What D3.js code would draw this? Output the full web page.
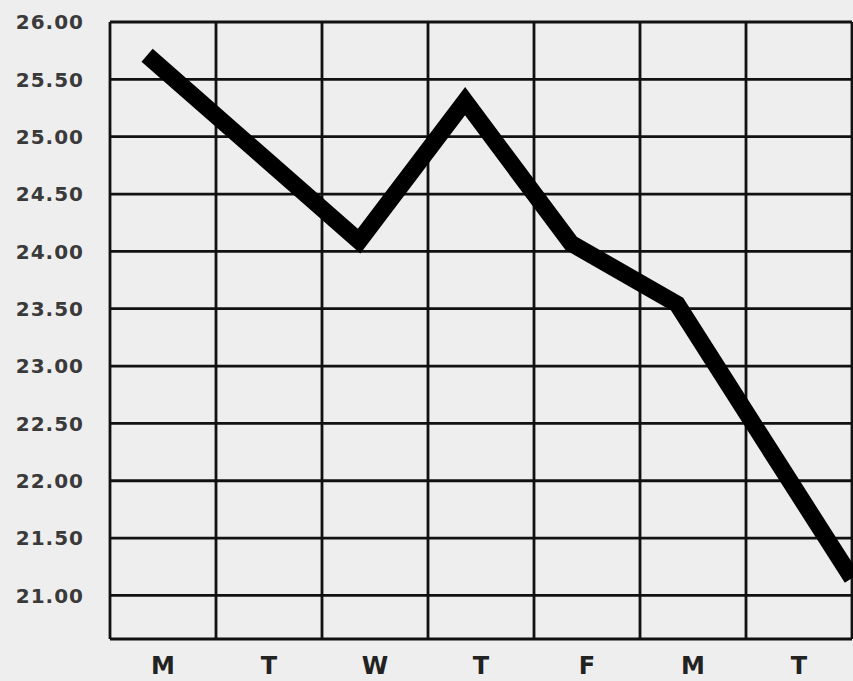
<!DOCTYPE html>
<html>
<head>
<meta charset="utf-8">
<script src="https://cdn.jsdelivr.net/npm/d3@7"></script>
<style>
  html, body { margin: 0; padding: 0; background: #eeeeee; }
  svg { display: block; }
</style>
</head>
<body>
<div id="chart"></div>
<script>
// days along the bottom and the closing price read for each one
const days = ["M", "T", "W", "T", "F", "M", "T"];
const prices = [25.71, 24.90, 24.09, 25.31, 24.07, 23.54, 22.09];
// where the line runs into the right hand frame
const edgePrice = 21.15;
// y tick labels
const tickValues = [26, 25.5, 25, 24.5, 24, 23.5, 23, 22.5, 22, 21.5, 21];

const width = 853, height = 681;
const frame = {left: 110, right: 852, top: 22, bottom: 639};

const svg = d3.select("#chart")
    .append("svg")
        .attr("width", width)
        .attr("height", height);

svg.append("rect")
    .attr("width", width)
    .attr("height", height)
    .attr("fill", "#eeeeee");

// x: one column per day
const x = d3.scaleBand()
    .domain(d3.range(days.length))
    .range([frame.left, frame.right])
    .padding(0);

// y: price
const y = d3.scaleLinear()
    .domain([20.62, 26])
    .range([frame.bottom, frame.top]);

const grid = svg.append("g")
    .attr("stroke", "#111")
    .attr("stroke-width", 2.8)
    .attr("fill", "none");

// horizontal rules
grid.selectAll("line.h")
    .data(tickValues.concat([y.domain()[0]]))
    .enter().append("line")
        .attr("class", "h")
        .attr("x1", frame.left)
        .attr("x2", frame.right)
        .attr("y1", d => y(d))
        .attr("y2", d => y(d));

// vertical rules, column edges
grid.selectAll("line.v")
    .data(d3.range(days.length + 1))
    .enter().append("line")
        .attr("class", "v")
        .attr("x1", i => i < days.length ? x(i) : x.range()[1])
        .attr("x2", i => i < days.length ? x(i) : x.range()[1])
        .attr("y1", y.range()[1])
        .attr("y2", y.range()[0]);

// y labels
svg.append("g")
    .attr("font-family", "DejaVu Sans, sans-serif")
    .attr("font-weight", "bold")
    .attr("font-size", 20)
    .attr("letter-spacing", 1)
    .attr("fill", "#3a3a3a")
    .attr("text-anchor", "end")
    .selectAll("text")
    .data(tickValues)
    .enter().append("text")
        .attr("x", 84)
        .attr("y", d => y(d))
        .attr("dy", "0.36em")
        .text(d => d3.format(".2f")(d));

// x labels
svg.append("g")
    .attr("font-family", "DejaVu Sans, sans-serif")
    .attr("font-weight", "bold")
    .attr("font-size", 24)
    .attr("fill", "#222")
    .attr("text-anchor", "middle")
    .selectAll("text")
    .data(days)
    .enter().append("text")
        .attr("x", (d, i) => x(i) + x.bandwidth() / 2)
        .attr("y", 674)
        .text(d => d);

// price line, each point sits a little left of its column centre
const pts = prices.map((p, i) => [x(i) + x.bandwidth() * 0.35, y(p)]);
pts.push([x.range()[1], y(edgePrice)]);

svg.append("path")
    .datum(pts)
    .attr("fill", "none")
    .attr("stroke", "#000")
    .attr("stroke-width", 17)
    .attr("stroke-linejoin", "miter")
    .attr("stroke-linecap", "butt")
    .attr("d", d3.line());
</script>
</body>
</html>
